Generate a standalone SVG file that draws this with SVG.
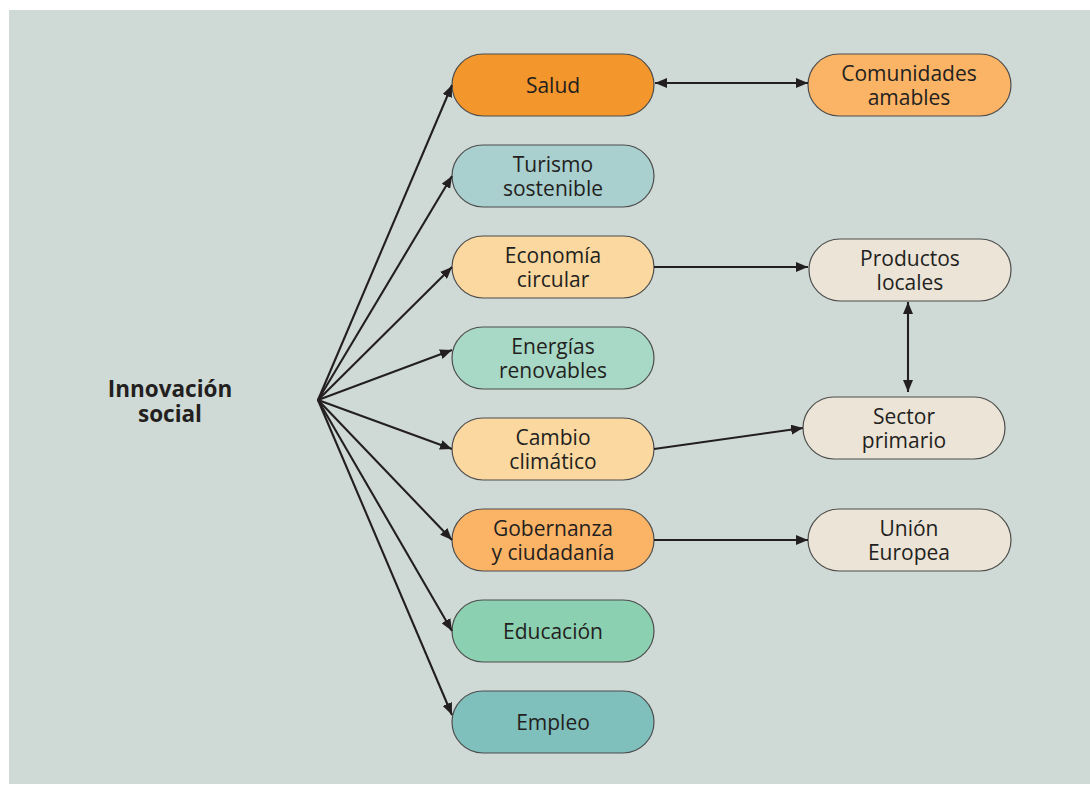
<svg xmlns="http://www.w3.org/2000/svg" width="1090" height="794" viewBox="0 0 1090 794">
<defs>
<marker id="ah" viewBox="0 0 12 10" refX="12" refY="5" markerWidth="12" markerHeight="10" markerUnits="userSpaceOnUse" orient="auto-start-reverse">
<path d="M0,0 L12,5 L0,10 Z" fill="#231f20"/>
</marker>
<style>
.n{stroke:#4d4d4d;stroke-width:1.2}
.t{font-family:"Open Sans","Noto Sans",sans-serif;font-size:21px;fill:#231f20;text-anchor:middle}
.b{font-family:"Open Sans","Noto Sans",sans-serif;font-size:22.5px;font-weight:bold;fill:#231f20;text-anchor:middle}
.c{stroke:#231f20;stroke-width:2.1;fill:none}
</style>
</defs>
<rect x="9" y="10" width="1081" height="774" fill="#cfdad6"/>
<g id="innovacion">
<text class="b" x="170" y="397">Innovación</text>
<text class="b" x="170" y="422">social</text>
</g>
<g id="salud"><rect class="n" x="452" y="54" width="202" height="62" rx="31" fill="#f3962b"/><text class="t" x="553" y="93">Salud</text></g>
<g id="turismo"><rect class="n" x="452" y="145" width="202" height="62" rx="31" fill="#a9cfcf"/><text class="t" x="553" y="171.5">Turismo</text><text class="t" x="553" y="195.5">sostenible</text></g>
<g id="economia"><rect class="n" x="452" y="236" width="202" height="62" rx="31" fill="#fad89f"/><text class="t" x="553" y="262.5">Economía</text><text class="t" x="553" y="286.5">circular</text></g>
<g id="energias"><rect class="n" x="452" y="327" width="202" height="62" rx="31" fill="#a8d9c6"/><text class="t" x="553" y="353.5">Energías</text><text class="t" x="553" y="377.5">renovables</text></g>
<g id="cambio"><rect class="n" x="452" y="418" width="202" height="62" rx="31" fill="#fad89f"/><text class="t" x="553" y="444.5">Cambio</text><text class="t" x="553" y="468.5">climático</text></g>
<g id="gobernanza"><rect class="n" x="452" y="509" width="202" height="62" rx="31" fill="#fbb466"/><text class="t" x="553" y="535.5">Gobernanza</text><text class="t" x="553" y="559.5">y ciudadanía</text></g>
<g id="educacion"><rect class="n" x="452" y="600" width="202" height="62" rx="31" fill="#8bd0b1"/><text class="t" x="553" y="639">Educación</text></g>
<g id="empleo"><rect class="n" x="452" y="691" width="202" height="62" rx="31" fill="#7fbfbc"/><text class="t" x="553" y="730">Empleo</text></g>
<g id="comunidades"><rect class="n" x="808" y="54" width="203" height="62" rx="31" fill="#fbb466"/><text class="t" x="909" y="80.5">Comunidades</text><text class="t" x="909" y="104.5">amables</text></g>
<g id="productos"><rect class="n" x="809" y="239" width="202" height="62" rx="31" fill="#ebe4d7"/><text class="t" x="910" y="265.5">Productos</text><text class="t" x="910" y="289.5">locales</text></g>
<g id="sector"><rect class="n" x="803" y="397" width="202" height="62" rx="31" fill="#ebe4d7"/><text class="t" x="904" y="423.5">Sector</text><text class="t" x="904" y="447.5">primario</text></g>
<g id="union"><rect class="n" x="808" y="509" width="203" height="62" rx="31" fill="#ebe4d7"/><text class="t" x="909" y="535.5">Unión</text><text class="t" x="909" y="559.5">Europea</text></g>
<g id="connectors">
<line class="c" x1="318" y1="400" x2="452" y2="85" marker-end="url(#ah)"/>
<line class="c" x1="318" y1="400" x2="452" y2="176" marker-end="url(#ah)"/>
<line class="c" x1="318" y1="400" x2="452" y2="267" marker-end="url(#ah)"/>
<line class="c" x1="318" y1="400" x2="452" y2="350" marker-end="url(#ah)"/>
<line class="c" x1="318" y1="400" x2="452" y2="449" marker-end="url(#ah)"/>
<line class="c" x1="318" y1="400" x2="452" y2="540" marker-end="url(#ah)"/>
<line class="c" x1="318" y1="400" x2="452" y2="631" marker-end="url(#ah)"/>
<line class="c" x1="318" y1="400" x2="452" y2="715" marker-end="url(#ah)"/>
<line class="c" x1="655" y1="83" x2="808" y2="83" marker-start="url(#ah)" marker-end="url(#ah)"/>
<line class="c" x1="654" y1="267" x2="808" y2="267" marker-end="url(#ah)"/>
<line class="c" x1="908" y1="302" x2="908" y2="392" marker-start="url(#ah)" marker-end="url(#ah)"/>
<line class="c" x1="654" y1="449" x2="803" y2="428" marker-end="url(#ah)"/>
<line class="c" x1="654" y1="540" x2="808" y2="540" marker-end="url(#ah)"/>
</g>
</svg>
